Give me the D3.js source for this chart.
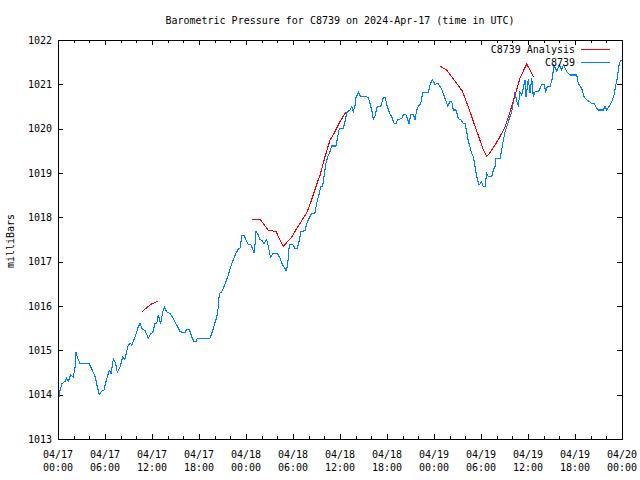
<!DOCTYPE html>
<html>
<head>
<meta charset="utf-8">
<script src="https://cdn.jsdelivr.net/npm/d3@7"></script>
<style>
  html, body { margin: 0; padding: 0; background: #fff; }
  svg { display: block; }
  text { font-family: "DejaVu Sans Mono", "Liberation Mono", monospace; font-size: 10px; fill: #000; }
</style>
</head>
<body>
<svg id="chart" width="640" height="480"></svg>
<script>
// ---- data (hours since 2024-04-17 00:00 UTC, pressure in mb) ----
const titleText = "Barometric Pressure for C8739 on 2024-Apr-17 (time in UTC)";
const yLabel = "milliBars";
const seriesNames = ["C8739 Analysis", "C8739"];
const yTicks = [1013, 1014, 1015, 1016, 1017, 1018, 1019, 1020, 1021, 1022];

const obsHours = [0.13,0.26,0.51,0.89,1.11,1.31,1.62,1.95,2.17,2.30,2.46,2.81,3.96,4.30,4.72,5.02,5.27,5.58,5.87,6.13,6.55,6.77,7.06,7.34,7.57,7.92,8.26,8.55,8.90,9.19,9.41,9.83,10.25,10.47,10.76,11.11,11.53,11.83,12.09,12.38,12.60,12.80,13.11,13.37,13.57,13.88,14.30,14.72,15.15,15.58,16.22,16.43,16.76,17.07,17.36,17.62,17.78,19.40,19.75,20.26,20.47,20.59,20.90,21.10,21.45,21.74,22.05,22.38,22.72,23.02,23.23,23.49,23.78,24.09,24.29,24.60,24.80,25.06,25.28,25.57,25.79,26.04,26.30,26.64,26.85,27.06,27.19,27.41,27.99,28.34,28.69,28.98,29.11,29.27,29.40,29.53,29.96,30.26,30.55,30.81,31.02,31.53,31.75,32.17,32.39,32.81,33.03,33.32,33.54,33.79,33.96,34.21,34.43,34.72,34.94,35.49,35.71,35.91,36.42,36.64,36.86,37.06,37.28,37.50,37.70,37.92,38.04,38.34,38.64,39.41,39.62,39.83,40.05,40.26,40.47,40.76,41.20,41.53,41.75,42.04,42.30,42.60,42.90,43.15,43.32,43.88,44.09,44.43,44.60,44.81,45.03,45.36,45.58,45.79,46.00,46.31,46.56,47.28,47.49,47.78,48.13,48.51,48.98,49.41,49.75,50.04,50.26,50.46,50.81,51.10,51.41,51.74,51.96,52.17,52.38,52.60,52.81,53.02,53.24,53.45,53.75,54.09,54.30,54.51,54.73,54.94,55.37,55.58,55.79,55.92,56.43,56.64,56.85,57.07,57.36,57.62,57.92,58.13,58.35,58.56,58.77,58.98,59.20,59.40,59.62,59.75,59.92,60.04,60.26,60.48,60.68,60.90,61.32,61.54,61.75,62.05,62.27,62.47,62.81,63.11,63.32,63.67,64.00,64.30,64.51,64.94,65.36,66.22,66.42,66.86,67.15,67.49,67.83,68.13,68.43,68.64,68.98,69.62,69.84,70.06,70.35,70.69,70.99,71.20,71.41,71.59,71.76,71.92];
const obsValues = [1013.95,1014.10,1014.25,1014.30,1014.37,1014.30,1014.45,1014.40,1014.60,1014.97,1014.85,1014.70,1014.70,1014.58,1014.42,1014.18,1014.00,1014.08,1014.10,1014.30,1014.55,1014.48,1014.80,1014.72,1014.50,1014.62,1014.85,1014.80,1015.08,1015.17,1015.12,1015.30,1015.53,1015.60,1015.48,1015.45,1015.27,1015.38,1015.40,1015.60,1015.60,1015.80,1015.60,1015.87,1015.98,1015.87,1015.83,1015.72,1015.57,1015.42,1015.40,1015.48,1015.48,1015.30,1015.20,1015.20,1015.27,1015.27,1015.45,1015.75,1015.98,1016.28,1016.32,1016.40,1016.55,1016.70,1016.89,1017.04,1017.19,1017.29,1017.30,1017.59,1017.59,1017.45,1017.39,1017.39,1017.31,1017.19,1017.68,1017.60,1017.50,1017.48,1017.41,1017.50,1017.34,1017.15,1017.10,1017.19,1017.19,1017.08,1016.92,1016.85,1016.79,1016.89,1017.08,1017.39,1017.39,1017.30,1017.30,1017.49,1017.68,1017.70,1017.86,1018.02,1018.09,1018.10,1018.32,1018.52,1018.69,1018.70,1018.92,1019.22,1019.37,1019.48,1019.61,1019.61,1019.82,1020.00,1020.00,1020.16,1020.35,1020.40,1020.42,1020.50,1020.38,1020.53,1020.70,1020.82,1020.72,1020.72,1020.69,1020.57,1020.42,1020.21,1020.29,1020.50,1020.50,1020.71,1020.71,1020.50,1020.36,1020.27,1020.12,1020.11,1020.20,1020.23,1020.31,1020.31,1020.23,1020.12,1020.31,1020.31,1020.21,1020.42,1020.50,1020.57,1020.81,1020.81,1020.98,1021.11,1021.00,1021.02,1020.89,1020.68,1020.51,1020.61,1020.62,1020.42,1020.42,1020.23,1020.20,1020.12,1020.12,1019.93,1019.71,1019.59,1019.44,1019.37,1019.14,1018.92,1018.73,1018.80,1018.69,1018.69,1018.99,1018.92,1018.92,1019.07,1019.14,1019.33,1019.33,1019.52,1019.74,1019.93,1020.08,1020.23,1020.38,1020.61,1020.83,1020.61,1020.53,1020.83,1020.76,1020.91,1021.10,1020.72,1020.95,1021.11,1020.80,1021.14,1020.72,1020.83,1020.83,1020.91,1021.00,1021.00,1020.83,1020.95,1020.95,1021.14,1021.44,1021.29,1021.44,1021.32,1021.44,1021.29,1021.21,1021.21,1021.02,1020.91,1020.72,1020.65,1020.61,1020.57,1020.57,1020.50,1020.42,1020.42,1020.50,1020.42,1020.50,1020.61,1020.76,1020.98,1021.14,1021.40,1021.51,1021.55];

// analysis runs (null marks a gap between runs)
const anaHours = [10.76,11.36,12.00,12.80, null, 24.80,25.79,26.21,26.85,27.49,27.83,28.34,28.76,29.83,30.47,31.32,31.83,32.39,33.03,33.45,34.09,34.72,35.36,36.00,36.77, null, 48.77,49.62,50.26,50.90,51.61,52.17,52.60,53.02,53.45,53.87,54.30,54.73,55.24,55.79,56.43,57.07,57.71,58.35,58.98,59.84,60.26,60.68];
const anaValues = [1015.87,1015.97,1016.05,1016.11, null, 1017.96,1017.96,1017.86,1017.71,1017.69,1017.68,1017.49,1017.35,1017.55,1017.75,1017.98,1018.13,1018.40,1018.75,1018.95,1019.37,1019.74,1019.93,1020.16,1020.38, null, 1021.41,1021.32,1021.17,1021.02,1020.85,1020.59,1020.38,1020.16,1019.95,1019.74,1019.52,1019.37,1019.48,1019.63,1019.82,1020.04,1020.38,1020.76,1021.14,1021.46,1021.32,1021.17];

// ---- drawing ----
const t0 = Date.UTC(2024, 3, 17, 0, 0);
const t1 = Date.UTC(2024, 3, 20, 0, 0);
const toDate = h => new Date(t0 + h * 3600e3);

const L = 58, R = 622, T = 40, B = 439;
const svg = d3.select("#chart");
const x = d3.scaleUtc().domain([new Date(t0), new Date(t1)]).range([L, R]);
const y = d3.scaleLinear().domain([1013, 1022]).range([B, T]);

const majorX = d3.utcHour.every(6).range(new Date(t0), new Date(t1 + 1));
const minorX = d3.utcHour.every(2).range(new Date(t0), new Date(t1 + 1));

function styleAxis(g) {
  g.select(".domain").remove();
  g.selectAll("line").attr("stroke", "#000").attr("shape-rendering", "crispEdges");
  g.selectAll("text").remove();
}
// ticks pointing inward on all four sides
svg.append("g").attr("transform", `translate(0,${B})`).call(d3.axisBottom(x).tickValues(minorX).tickSize(-3).tickFormat("")).call(styleAxis);
svg.append("g").attr("transform", `translate(0,${B})`).call(d3.axisBottom(x).tickValues(majorX).tickSize(-5).tickFormat("")).call(styleAxis);
svg.append("g").attr("transform", `translate(0,${T})`).call(d3.axisTop(x).tickValues(minorX).tickSize(-3).tickFormat("")).call(styleAxis);
svg.append("g").attr("transform", `translate(0,${T})`).call(d3.axisTop(x).tickValues(majorX).tickSize(-5).tickFormat("")).call(styleAxis);
svg.append("g").attr("transform", `translate(${L},0)`).call(d3.axisLeft(y).tickValues(yTicks).tickSize(-5).tickFormat("")).call(styleAxis);
svg.append("g").attr("transform", `translate(${R},0)`).call(d3.axisRight(y).tickValues(yTicks).tickSize(-5).tickFormat("")).call(styleAxis);

// frame
svg.append("rect").attr("x", L + 0.5).attr("y", T + 0.5).attr("width", R - L).attr("height", B - T)
  .attr("fill", "none").attr("stroke", "#000").attr("stroke-width", 1).attr("shape-rendering", "crispEdges");

// x labels
const fmtDay = d3.utcFormat("%m/%d"), fmtTime = d3.utcFormat("%H:%M");
const xl = svg.append("g");
majorX.forEach(d => {
  const t = xl.append("text").attr("text-anchor", "middle");
  t.append("tspan").attr("x", x(d)).attr("y", 458).text(fmtDay(d));
  t.append("tspan").attr("x", x(d)).attr("y", 471).text(fmtTime(d));
});
// y labels
svg.append("g").selectAll("text").data(yTicks).join("text")
  .attr("x", 52).attr("y", d => y(d)).attr("dy", "0.35em").attr("text-anchor", "end").text(d => d);

// title & axis label
svg.append("text").attr("x", 340).attr("y", 24).attr("text-anchor", "middle").text(titleText);
svg.append("text").attr("transform", "translate(14,241) rotate(-90)").attr("text-anchor", "middle").text(yLabel);

// series
const obs = obsHours.map((h, i) => ({ t: toDate(h), v: obsValues[i] }));
const ana = anaHours.map((h, i) => ({ t: h == null ? null : toDate(h), v: anaValues[i] }));
const line = d3.line().defined(d => d.v != null).x(d => x(d.t)).y(d => y(d.v));

svg.append("path").datum(obs).attr("d", line).attr("fill", "none").attr("stroke", "#0080ff")
  .attr("stroke-width", 1.1).attr("shape-rendering", "crispEdges");
svg.append("path").datum(ana).attr("d", line).attr("fill", "none").attr("stroke", "#ff0000")
  .attr("stroke-width", 1.1).attr("shape-rendering", "crispEdges");

// legend
const legColors = ["#ff0000", "#0080ff"];
seriesNames.forEach((n, i) => {
  const yy = 49.5 + i * 13;
  svg.append("text").attr("x", 575).attr("y", yy).attr("dy", "0.35em").attr("text-anchor", "end").text(n);
  svg.append("line").attr("x1", 581).attr("x2", 610).attr("y1", yy).attr("y2", yy)
    .attr("stroke", legColors[i]).attr("stroke-width", 1).attr("shape-rendering", "crispEdges");
});
</script>
</body>
</html>
